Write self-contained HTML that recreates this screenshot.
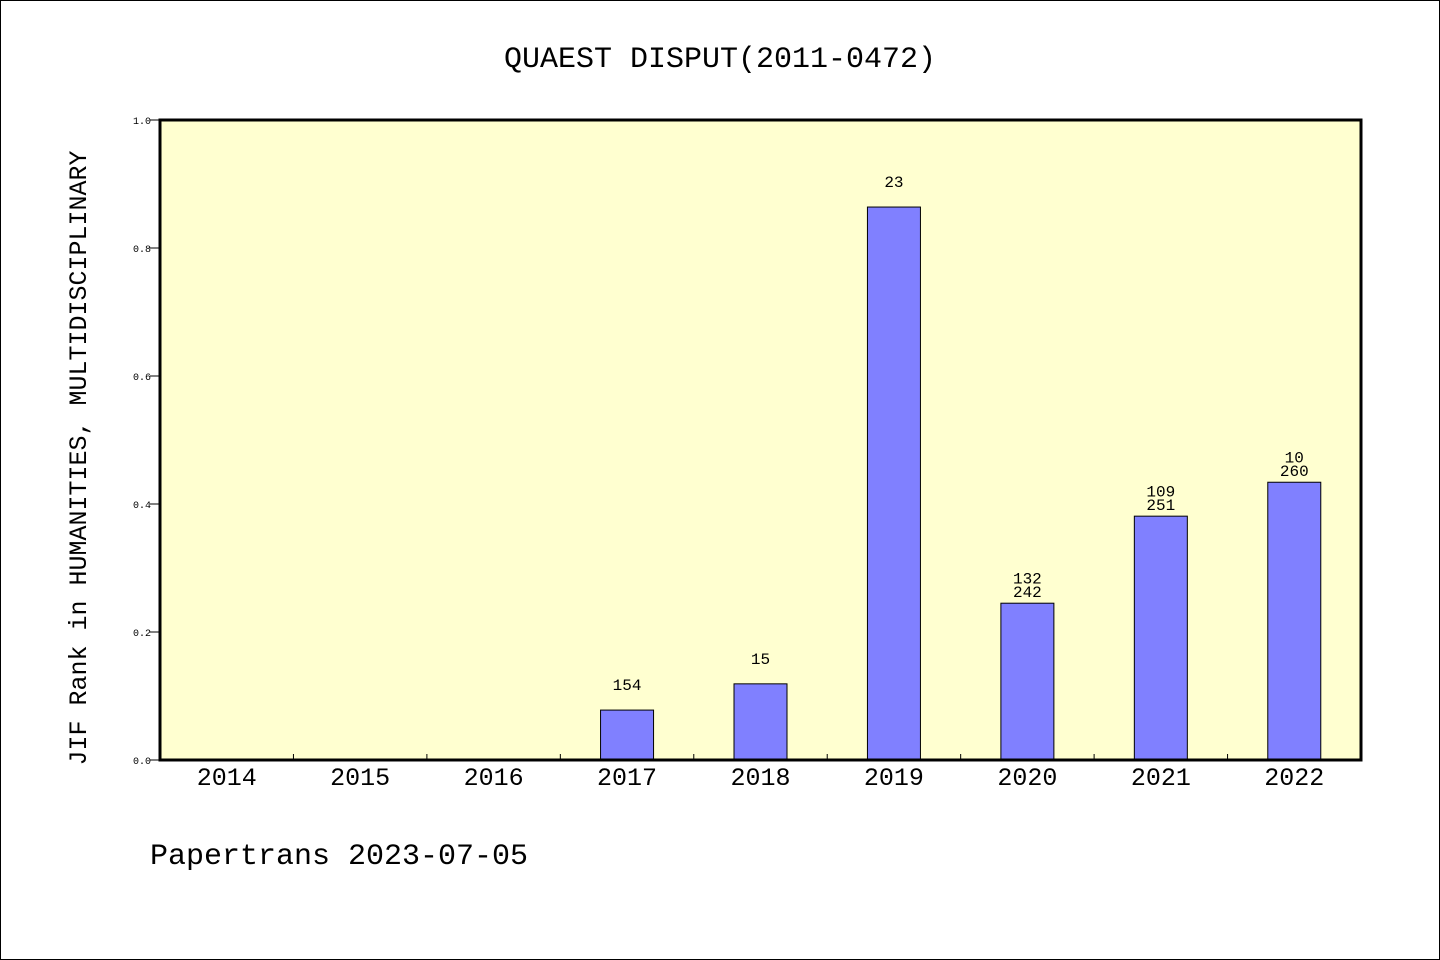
<!DOCTYPE html>
<html><head><meta charset="utf-8">
<style>
body{margin:0;background:#fff;}
svg{display:block;font-family:"Liberation Mono","DejaVu Sans Mono",monospace;}
</style></head>
<body>
<svg id="chart" width="1440" height="960">
<rect x="0.5" y="0.5" width="1439" height="959" fill="#fff" stroke="#000"/>
<text x="720" y="67" text-anchor="middle" font-size="30">QUAEST DISPUT(2011-0472)</text>
<rect x="160" y="120" width="1201" height="640" fill="#ffffd0"/>
<g id="bars"></g>
<g id="axes"></g>
<rect x="160" y="120" width="1201" height="640" fill="none" stroke="#000" stroke-width="3"/>
<text transform="translate(86,458) rotate(-90)" text-anchor="middle" font-size="25">JIF Rank in HUMANITIES, MULTIDISCIPLINARY</text>
<text x="150" y="864" font-size="30">Papertrans 2023-07-05</text>
</svg>
<script>
const categories=["2014","2015","2016","2017","2018","2019","2020","2021","2022"];
const values=[null,null,null,0.078,0.119,0.864,0.245,0.381,0.434];
const rankLabels=[null,null,null,["154"],["15"],["23"],["132","242"],["109","251"],["10","260"]];
const yTicks=[0,0.2,0.4,0.6,0.8,1.0];
const X0=160,X1=1361,Y0=760,Y1=120;
const step=(X1-X0)/categories.length;
const xc=i=>X0+step*(i+0.5);
const y=v=>Y0-(Y0-Y1)*v;
const NS="http://www.w3.org/2000/svg";
const bars=document.getElementById('bars'),axes=document.getElementById('axes');
function mk(p,t,a){const e=document.createElementNS(NS,t);for(const k in a)e.setAttribute(k,a[k]);p.appendChild(e);return e;}
categories.forEach((c,i)=>{
  const t=mk(axes,'text',{x:xc(i),y:785,'text-anchor':'middle','font-size':25});
  t.textContent=c;
  
  
  if(i>0){const l=mk(axes,'line',{x1:X0+step*i,x2:X0+step*i,y1:Y0,y2:Y0-6,stroke:'#000'});
    
    }
  const v=values[i];
  if(v!=null){
    const r=mk(bars,'rect',{x:xc(i)-26.5,y:y(v),width:53,height:Y0-y(v),fill:'#8080ff',stroke:'#000','stroke-width':1});
    
    
    const lab=rankLabels[i];
    const base=lab.length>1?y(v)-6:y(v)-20;
    lab.forEach((s,j)=>{
      const t=mk(bars,'text',{x:xc(i),y:base-(lab.length-1-j)*13.5,'text-anchor':'middle','font-size':16});
      t.textContent=s;
      
      
    });
  }
});
yTicks.forEach(v=>{
  const l=mk(axes,'line',{x1:150,x2:160,y1:y(v),y2:y(v),stroke:'#000'});
  
  
  const t=mk(axes,'text',{x:151,y:y(v)+4,'text-anchor':'end','font-size':10});
  t.textContent=v.toFixed(1);
  
  
});
</script>
</body></html>
